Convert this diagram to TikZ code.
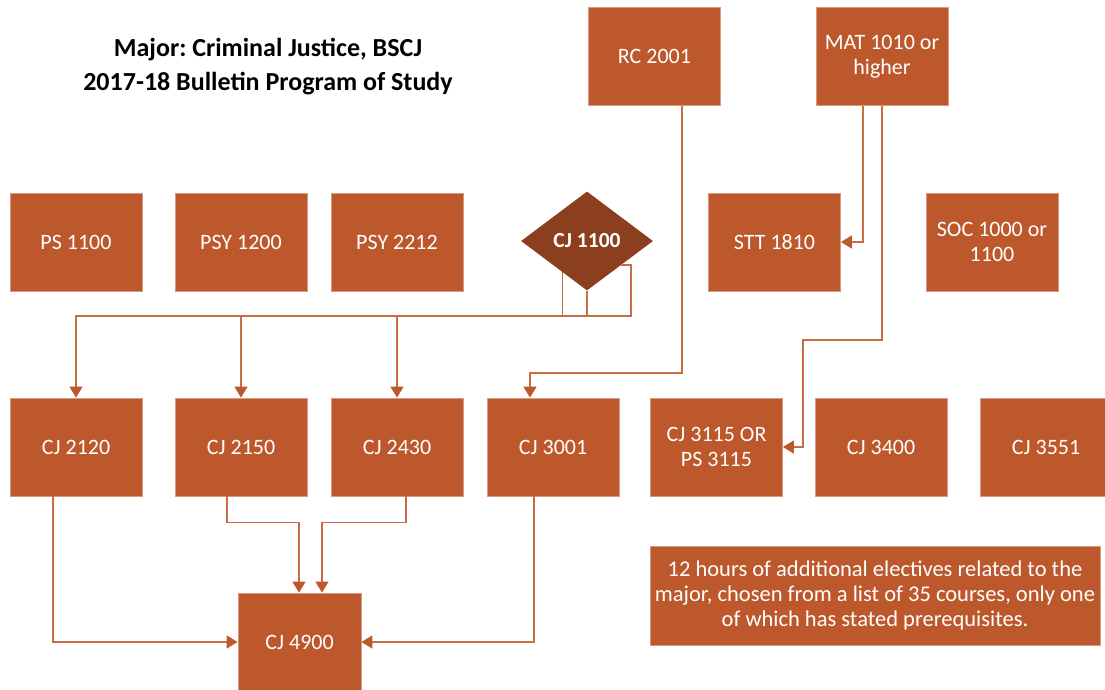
\documentclass[tikz,border=0pt]{standalone}
\usepackage{fontspec}
\setmainfont{Carlito}
\frenchspacing
\usetikzlibrary{arrows.meta,shapes.geometric,calc}
\definecolor{boxfill}{HTML}{BD582C}
\definecolor{boxedge}{HTML}{D39A80}
\definecolor{darkfill}{HTML}{8C3F1F}
\definecolor{linkline}{HTML}{C96B43}
\tikzset{
  course/.style={rectangle, fill=boxfill, draw=boxedge, line width=0.8pt,
    minimum width=132pt, minimum height=98pt, inner sep=2pt, text=white,
    font=\fontsize{22}{25}\selectfont, align=center},
  gateway/.style={diamond, fill=darkfill, draw=none, minimum width=132pt,
    minimum height=99pt, inner sep=0pt, text=white,
    font=\bfseries\fontsize{21.5}{25}\selectfont},
  link/.style={draw=linkline, line width=1.4pt,
    -{Triangle[length=11pt,width=13pt,color=boxfill]}},
  heading/.style={align=center, text=black,
    font=\bfseries\fontsize{26}{34}\selectfont}
}
\begin{document}
\begin{tikzpicture}[x=1pt,y=-1pt]
\useasboundingbox (0,0) rectangle (1105,689);

% title
\node[heading] (title) at (268,67) {Major: Criminal Justice, BSCJ\\2017-18 Bulletin Program of Study};

% top row
\node[course] (rc2001) at (654.5,56.5) {RC 2001};
\node[course] (mat) at (882,56.5) {MAT 1010 or\\higher};

% second row
\node[course] (ps1100) at (76,242) {PS 1100};
\node[course] (psy1200) at (241,242) {PSY 1200};
\node[course] (psy2212) at (397,242) {PSY 2212};
\node[gateway] (cj1100) at (587,241) {CJ 1100};
\node[course] (stt) at (774.5,242) {STT 1810};
\node[course] (soc) at (992,242) {SOC 1000 or\\1100};

% third row
\node[course] (cj2120) at (76,447) {CJ 2120};
\node[course] (cj2150) at (241,447) {CJ 2150};
\node[course] (cj2430) at (397,447) {CJ 2430};
\node[course] (cj3001) at (553,447) {CJ 3001};
\node[course] (cj3115) at (716.5,447) {CJ 3115 OR\\PS 3115};
\node[course] (cj3400) at (881,447) {CJ 3400};
\node[course] (cj3551) at (1046,447) {CJ 3551};

% capstone and electives
\node[course, minimum width=123pt] (cj4900) at (299.5,642) {CJ 4900};
\node[course, minimum width=450pt, minimum height=99pt,
  font=\fontsize{22.5}{25}\selectfont] (electives) at (875,595.5)
  {12 hours of additional electives related to the\\major, chosen from a list of 35 courses, only one\\of which has stated prerequisites.};

% CJ 1100 fan-out
\coordinate (bus) at (0,316);
\coordinate (dl) at ($(cj1100.west)!0.63!(cj1100.south)$);
\coordinate (dr) at ($(cj1100.east)!0.48!(cj1100.south)$);
\coordinate (drx) at (631,0);
\draw[link] (cj1100.south) -- (cj1100.south |- bus) -| (cj2120.north);
\draw[link] (dl) -- (dl |- bus) -| (cj2150.north);
\draw[link] (dr) -- (drx |- dr) -- (drx |- bus) -| (cj2430.north);

% RC 2001 to CJ 3001
\draw[link] ($(rc2001.south)+(27.5,0)$) -- ++(0,267) -| ($(cj3001.north)+(-23,0)$);

% MAT 1010 prerequisites
\draw[link] ($(mat.south)+(-19,0)$) |- (stt.east);
\draw[link] (mat.south) -- ++(0,234) -- ++(-79,0) |- (cj3115.east);

% into CJ 4900
\draw[link] ($(cj2120.south)+(-23,0)$) |- (cj4900.west);
\draw[link] ($(cj2150.south)+(-14,0)$) -- ++(0,26) -| ($(cj4900.north)+(-0.5,0)$);
\draw[link] ($(cj2430.south)+(9,0)$) -- ++(0,26) -| ($(cj4900.north)+(22.5,0)$);
\draw[link] ($(cj3001.south)+(-19,0)$) |- (cj4900.east);
\end{tikzpicture}
\end{document}
